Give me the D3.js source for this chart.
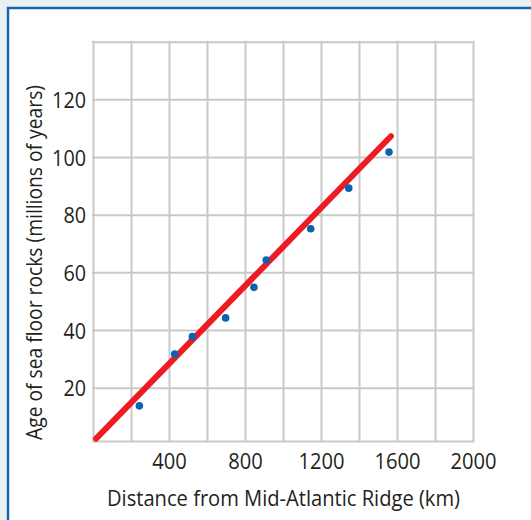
<html>
<head>
    <meta charset="utf-8">
    <title>Sea floor age</title>
    <script src="https://cdn.jsdelivr.net/npm/d3@7"></script>
    <style>
        body { margin: 0; background: #ebf1ee; }
        text { font-family: 'Open Sans', sans-serif; fill: #231f20; }
    </style>
</head>
<body>
<div id="chart"></div>
<script>
    // data
    const distance = [244, 430, 523, 698, 847, 912, 1146, 1346, 1558];
    const age = [13.7, 31.7, 37.7, 44.2, 54.8, 64.3, 75.1, 89.2, 101.7];
    const fitX = [16, 1568];
    const fitY = [2.3, 107.2];
    const xTicks = [400, 800, 1200, 1600, 2000];
    const yTicks = [20, 40, 60, 80, 100, 120];
    const xTitle = "Distance from Mid-Atlantic Ridge (km)";
    const yTitle = "Age of sea floor rocks (millions of years)";

    const W = 531, H = 520;
    const svg = d3.select('#chart').append('svg')
        .attr('width', W).attr('height', H);

    // panel with blue frame
    svg.append('rect')
        .attr('x', 8).attr('y', 8)
        .attr('width', 700).attr('height', 700)
        .attr('fill', '#fff')
        .attr('stroke', '#1565b0')
        .attr('stroke-width', 2.5);

    const x = d3.scaleLinear().domain([0, 2000]).range([93, 473]);
    const y = d3.scaleLinear().domain([1.5, 140]).range([441, 41.7]);
    const fmt = d3.format('d');

    // grid
    const grid = svg.append('g');
    grid.append('g')
        .attr('transform', `translate(0,${y.range()[0]})`)
        .call(d3.axisBottom(x).tickValues(d3.range(0, 2001, 200))
            .tickSize(-(y.range()[0] - y.range()[1])).tickFormat(''));
    grid.append('g')
        .attr('transform', `translate(${x.range()[0]},0)`)
        .call(d3.axisLeft(y).tickValues([y.domain()[0]].concat(d3.range(20, 141, 20)))
            .tickSize(-(x.range()[1] - x.range()[0])).tickFormat(''));
    grid.selectAll('.domain').remove();
    grid.selectAll('line')
        .attr('stroke', '#c9c9c9')
        .attr('stroke-width', 2)
        .attr('stroke-linecap', 'square');

    // tick labels
    const xa = svg.append('g')
        .attr('transform', `translate(0,${y.range()[0]})`)
        .call(d3.axisBottom(x).tickValues(xTicks).tickFormat(fmt).tickSize(0).tickPadding(0));
    xa.select('.domain').remove();
    xa.selectAll('text')
        .attr('y', 28).attr('dy', null)
        .attr('font-size', 22)
        .attr('fill', '#231f20')
        .attr('font-family', "'Open Sans', sans-serif")
        .attr('textLength', d => fmt(d).length * 11.5)
        .attr('lengthAdjust', 'spacingAndGlyphs');

    const ya = svg.append('g')
        .attr('transform', `translate(${x.range()[0]},0)`)
        .call(d3.axisLeft(y).tickValues(yTicks).tickFormat(fmt).tickSize(0).tickPadding(0));
    ya.select('.domain').remove();
    ya.selectAll('text')
        .attr('x', -7).attr('dy', 8)
        .attr('font-size', 22)
        .attr('fill', '#231f20')
        .attr('font-family', "'Open Sans', sans-serif")
        .attr('textLength', d => fmt(d).length * 11.3)
        .attr('lengthAdjust', 'spacingAndGlyphs');

    // axis titles
    svg.append('text')
        .attr('x', 283.5).attr('y', 506)
        .attr('text-anchor', 'middle')
        .attr('font-size', 22)
        .attr('textLength', 353)
        .attr('lengthAdjust', 'spacingAndGlyphs')
        .text(xTitle);
    svg.append('text')
        .attr('transform', 'translate(41.5,262.5) rotate(-90)')
        .attr('text-anchor', 'middle')
        .attr('font-size', 22)
        .attr('textLength', 355)
        .attr('lengthAdjust', 'spacingAndGlyphs')
        .text(yTitle);

    // best fit line
    svg.append('path')
        .datum(d3.zip(fitX, fitY))
        .attr('fill', 'none')
        .attr('stroke', '#ed1c24')
        .attr('stroke-width', 6)
        .attr('stroke-linecap', 'round')
        .attr('d', d3.line().x(d => x(d[0])).y(d => y(d[1])));

    // points
    svg.append('g')
        .selectAll('circle')
        .data(d3.zip(distance, age))
        .join('circle')
        .attr('cx', d => x(d[0]))
        .attr('cy', d => y(d[1]))
        .attr('r', 3.8)
        .attr('fill', '#0b63b0');
</script>
</body>
</html>
